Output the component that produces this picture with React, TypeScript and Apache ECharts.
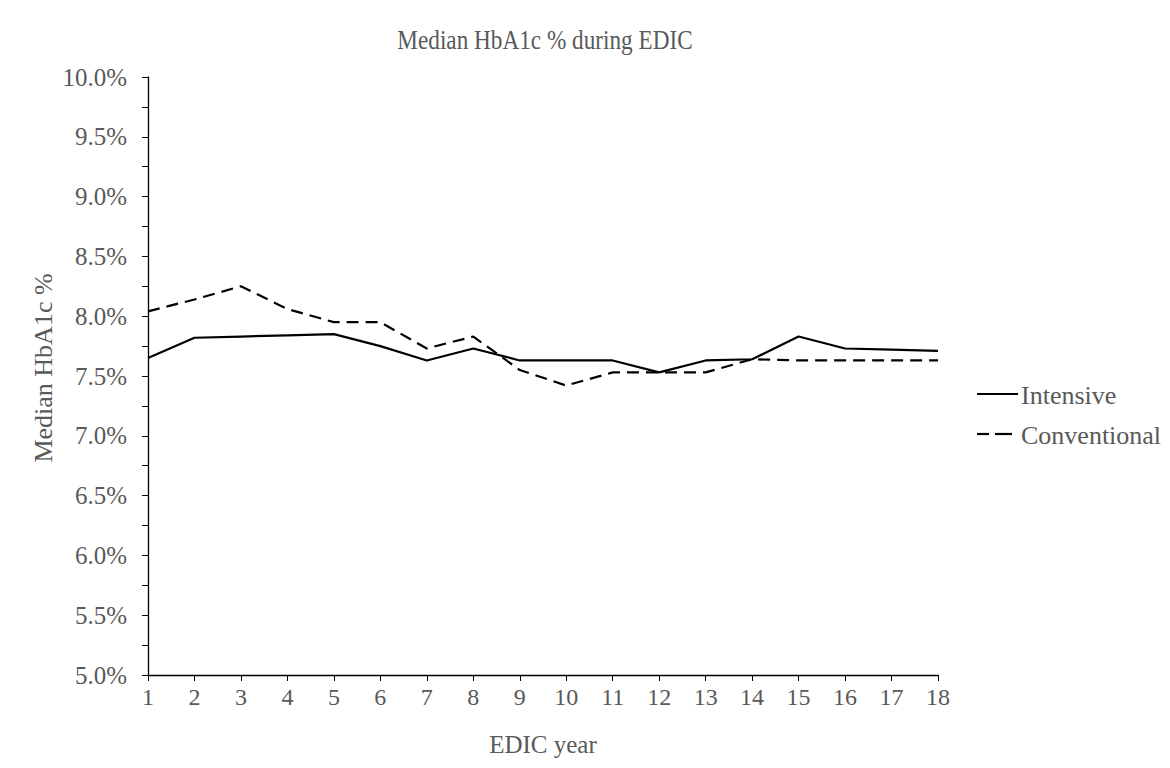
import React, { useEffect, useRef } from "react";
import * as echarts from "echarts";

const years = ["1","2","3","4","5","6","7","8","9","10","11","12","13","14","15","16","17","18"];
const intensive = [7.65, 7.82, 7.83, 7.84, 7.85, 7.75, 7.63, 7.73, 7.63, 7.63, 7.63, 7.53, 7.63, 7.64, 7.83, 7.73, 7.72, 7.71];
const conventional = [8.04, 8.14, 8.25, 8.06, 7.95, 7.95, 7.73, 7.83, 7.55, 7.42, 7.53, 7.53, 7.53, 7.64, 7.63, 7.63, 7.63, 7.63];
const seriesNames = ["Intensive", "Conventional"];
const titleText = "Median HbA1c % during EDIC";
const yName = "Median HbA1c %";
const xName = "EDIC year";

const FONT = "'Liberation Serif', 'Times New Roman', serif";
const GRAY = "#595959";

export default function App() {
  const ref = useRef<HTMLDivElement>(null);
  useEffect(() => {
    if (!ref.current) return;
    const chart = echarts.init(ref.current, null, { renderer: "svg" });
    chart.setOption({
      animation: false,
      backgroundColor: "#ffffff",
      graphic: [
        // page edge artifacts on the left
        { type: "rect", shape: { x: 7, y: 0, width: 1, height: 768 }, style: { fill: "#d8d8d8" }, z: 10 },
        { type: "polygon", shape: { points: [[0, 180], [4, 195], [7, 220], [4, 245], [0, 262]] }, style: { fill: "#a8a8a8" }, z: 10 },
        { type: "rect", shape: { x: 0, y: 452, width: 6, height: 22 }, style: { fill: "#a8a8a8" }, z: 10 },
        { type: "polygon", shape: { points: [[0, 535], [6, 552], [7, 580], [0, 580]] }, style: { fill: "#a8a8a8" }, z: 10 },
        { type: "polygon", shape: { points: [[0, 585], [7, 588], [5, 610], [0, 612]] }, style: { fill: "#a8a8a8" }, z: 10 },
        { type: "rect", shape: { x: 0, y: 655, width: 6, height: 38 }, style: { fill: "#a8a8a8" }, z: 10 },
        // title
        {
          type: "text", x: 545, y: 40, scaleX: 0.86,
          style: { text: titleText, fontFamily: FONT, fontSize: 27, fill: GRAY, align: "center", verticalAlign: "middle" },
        },
        // y axis name
        {
          type: "text", x: 43, y: 368, rotation: Math.PI / 2,
          style: { text: yName, fontFamily: FONT, fontSize: 26, fill: GRAY, align: "center", verticalAlign: "middle" },
        },
        // legend
        { type: "line", shape: { x1: 977, y1: 394, x2: 1018, y2: 394 }, style: { stroke: "#000", lineWidth: 2.2 } },
        {
          type: "text", x: 1021, y: 395,
          style: { text: seriesNames[0], fontFamily: FONT, fontSize: 26, fill: GRAY, verticalAlign: "middle" },
        },
        { type: "line", shape: { x1: 977, y1: 434, x2: 989, y2: 434 }, style: { stroke: "#000", lineWidth: 2.2 } },
        { type: "line", shape: { x1: 995, y1: 434, x2: 1012, y2: 434 }, style: { stroke: "#000", lineWidth: 2.2 } },
        {
          type: "text", x: 1021, y: 435,
          style: { text: seriesNames[1], fontFamily: FONT, fontSize: 26, fill: GRAY, verticalAlign: "middle" },
        },
      ],
      grid: { left: 148, right: 232, top: 77, bottom: 93, containLabel: false },
      xAxis: {
        type: "category",
        data: years,
        boundaryGap: false,
        name: xName,
        nameLocation: "middle",
        nameGap: 57,
        nameTextStyle: { fontFamily: FONT, fontSize: 25, color: GRAY },
        axisLine: { lineStyle: { color: "#000", width: 1.3 } },
        axisTick: { show: true, length: 6, lineStyle: { color: "#000" }, alignWithLabel: true },
        axisLabel: { fontFamily: FONT, fontSize: 24, color: GRAY, margin: 10 },
      },
      yAxis: {
        type: "value",
        min: 5,
        max: 10,
        interval: 0.5,
        axisLine: { show: true, lineStyle: { color: "#000", width: 1.3 } },
        axisTick: { show: true, length: 6, lineStyle: { color: "#000" } },
        minorTick: { show: true, splitNumber: 2, length: 6, lineStyle: { color: "#000" } },
        splitLine: { show: false },
        axisLabel: {
          fontFamily: FONT,
          fontSize: 25,
          color: GRAY,
          margin: 21,
          formatter: (v: number) => v.toFixed(1) + "%",
        },
      },
      series: [
        {
          name: seriesNames[0],
          type: "line",
          data: intensive,
          symbol: "none",
          lineStyle: { color: "#000", width: 2.2, type: "solid" },
          itemStyle: { color: "#000" },
        },
        {
          name: seriesNames[1],
          type: "line",
          data: conventional,
          symbol: "none",
          lineStyle: { color: "#000", width: 2.2, type: [12, 7] },
          itemStyle: { color: "#000" },
        },
      ],
    });
    return () => chart.dispose();
  }, []);
  return <div ref={ref} style={{ width: 1170, height: 768, margin: -8 }} />;
}
